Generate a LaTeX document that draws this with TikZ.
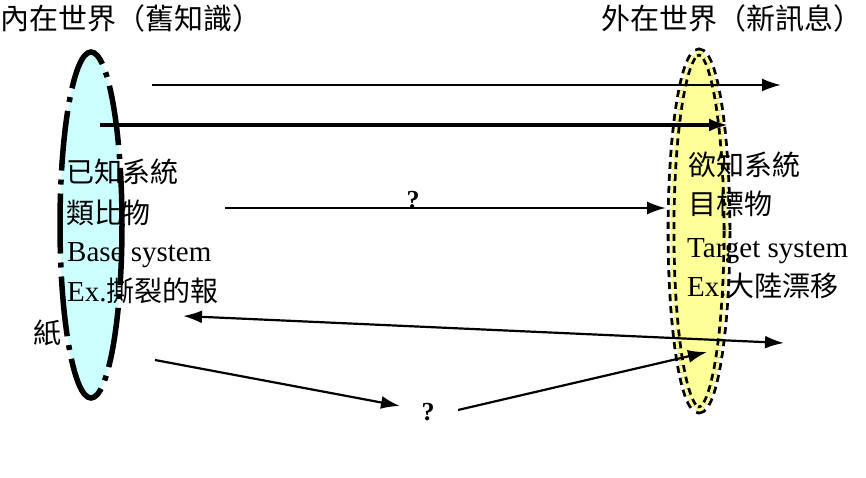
\documentclass[tikz,border=0pt]{standalone}
\usepackage{fontspec}
\setmainfont{Liberation Serif}
\newfontfamily\cjk{Noto Sans CJK TC}
\usetikzlibrary{arrows.meta}
\definecolor{lcyan}{HTML}{CCFFFF}
\definecolor{lyellow}{HTML}{FFFF99}
\tikzset{
  arr/.style={line width=2.2pt,-{Latex[length=19pt,width=13pt]}},
  txt/.style={anchor=west,inner sep=0pt,font=\fontsize{29}{31}\selectfont},
  ctxt/.style={anchor=west,inner sep=0pt,font=\cjk\fontsize{28}{31}\selectfont},
  ttl/.style={inner sep=0pt,font=\cjk\fontsize{29}{32}\selectfont},
}
\newcommand{\cjkin}[1]{{\cjk\fontsize{28}{31}\selectfont #1}}
\begin{document}
\begin{tikzpicture}[x=1pt,y=-1pt]
\useasboundingbox (0,0) rectangle (866,478);
\fill[white] (0,0) rectangle (866,478);
% left ellipse
\fill[lcyan] (91,225) ellipse [x radius=31, y radius=173];
\draw[line width=5.5pt,dash pattern=on 60pt off 9pt on 5pt off 9pt] (91,225) ellipse [x radius=31, y radius=173];
% right ellipse
\fill[lyellow] (699,231) ellipse [x radius=28, y radius=179];
\draw[line width=2.8pt,double=lyellow,double distance=3pt,dash pattern=on 7pt off 5pt] (699,231) ellipse [x radius=28, y radius=179];
% titles
\node[ttl,anchor=west] (t1) at (0,18) {內在世界（舊知識）};
\node[ttl,anchor=east] (t2) at (863,18) {外在世界（新訊息）};
% left texts
\node[ctxt] (l1) at (66,172) {已知系統};
\node[ctxt] (l2) at (66,213) {類比物};
\node[txt] (l3) at (67,255) {Base system};
\node[txt] (l4) at (67,291) {Ex.\cjkin{撕裂的報}};
\node[ctxt] (l5) at (33,333) {紙};
% right texts
\node[ctxt] (r1) at (688,165) {欲知系統};
\node[ctxt] (r2) at (688,204) {目標物};
\node[txt] (r3) at (687,251) {Target system};
\node[txt] (r4) at (687,286) {Ex.\cjkin{大陸漂移}};
% arrow end points
\coordinate (a1s) at (152,85);  \coordinate (a1e) at (781,85);
\coordinate (a2s) at (100,125); \coordinate (a2e) at (728,125);
\coordinate (a3s) at (225,208); \coordinate (a3e) at (666,208);
\coordinate (a4s) at (183,316); \coordinate (a4e) at (784,343);
\coordinate (a5s) at (155,360); \coordinate (a5e) at (400,406);
\coordinate (a6s) at (458,410); \coordinate (a6e) at (707,352);
\draw[arr] (a1s) -- (a1e);
\draw[arr,line width=3.4pt] (a2s) -- (a2e);
\draw[arr] (a3s) -- (a3e);
\draw[arr,{Latex[length=19pt,width=13pt]}-{Latex[length=19pt,width=13pt]}] (a4s) -- (a4e);
\draw[arr] (a5s) -- (a5e);
\draw[arr] (a6s) -- (a6e);
\node[inner sep=0pt,font=\bfseries\fontsize{26}{28}\selectfont] (q1) at (413,200) {?};
\node[inner sep=0pt,font=\bfseries\fontsize{26}{28}\selectfont] (q2) at (428,412) {?};
\end{tikzpicture}
\end{document}
